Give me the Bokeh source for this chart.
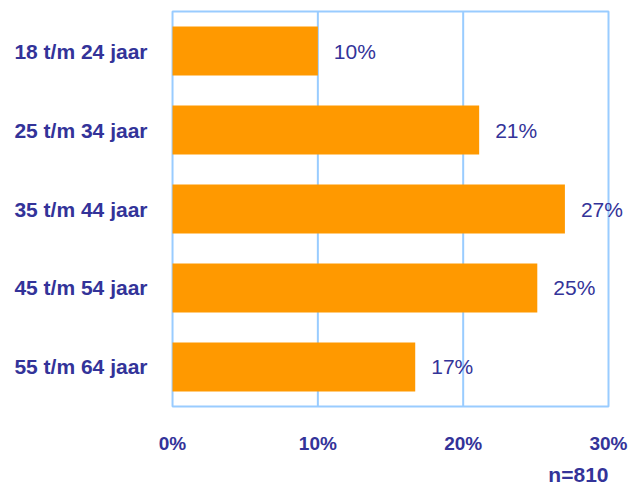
from bokeh.plotting import figure
from bokeh.models import FactorRange, FixedTicker, PrintfTickFormatter, ColumnDataSource, LabelSet, Title
from bokeh.core.properties import value
from bokeh.embed import file_html
from bokeh.resources import INLINE

categories = ["18 t/m 24 jaar", "25 t/m 34 jaar", "35 t/m 44 jaar", "45 t/m 54 jaar", "55 t/m 64 jaar"]
percentages = [10.0, 21.1, 27.0, 25.1, 16.7]
x_ticks = [0, 10, 20, 30]
note = "n=810"

TEXT = "#333399"
BLUE = "#99CCFF"
ORANGE = "#FF9900"
FONT = "Liberation Sans"

src = ColumnDataSource(dict(cat=categories, val=percentages,
                            lab=[f"{round(v)}%" for v in percentages]))

n = len(categories)
xmax = x_ticks[-1]

# frame extends a little beyond the drawn box, so that value labels may overhang
p = figure(width=633, height=489, output_backend="svg", toolbar_location=None,
           y_range=FactorRange(factors=list(reversed(categories)), range_padding=0.026,
                               range_padding_units="absolute"),
           x_range=(-0.14, 31.72))
p.min_border_left = 170
p.min_border_top = 9
p.min_border_right = 0
p.min_border_bottom = 81
p.outline_line_color = None

# box and inner grid lines (behind the bars)
p.quad(left=[x_ticks[0]], right=[xmax], bottom=[0], top=[n], fill_color=None,
       line_color=BLUE, line_width=2)
p.segment(x0=x_ticks[1:-1], x1=x_ticks[1:-1], y0=[0] * (len(x_ticks) - 2),
          y1=[n] * (len(x_ticks) - 2), line_color=BLUE, line_width=2)

p.hbar(y="cat", right="val", left=0, height=0.62, source=src,
       fill_color=ORANGE, line_color=None)

p.add_layout(LabelSet(x="val", y="cat", text="lab", source=src, x_offset=16,
                      text_align="left", text_baseline="middle", text_color=TEXT,
                      text_font=value(FONT), text_font_size="21px"))

p.xgrid.grid_line_color = None
p.ygrid.grid_line_color = None
p.xaxis.ticker = FixedTicker(ticks=x_ticks)
p.xaxis.formatter = PrintfTickFormatter(format="%d%%")

for ax in (p.xaxis[0], p.yaxis[0]):
    ax.axis_line_color = None
    ax.major_tick_line_color = None
    ax.minor_tick_line_color = None
    ax.major_tick_out = 0
    ax.major_tick_in = 0
    ax.minor_tick_out = 0
    ax.major_label_text_color = TEXT
    ax.major_label_text_font = FONT
    ax.major_label_text_font_style = "bold"

p.xaxis.major_label_text_font_size = "19px"
p.xaxis.major_label_standoff = 24
p.yaxis.major_label_text_font_size = "21px"
p.yaxis.major_label_standoff = 23

p.add_layout(Title(text=note, align="right", offset=25, text_color=TEXT, text_font=FONT,
                   text_font_size="21px", text_font_style="bold", standoff=8), "below")

open("out.html", "w").write(file_html(p, INLINE))
